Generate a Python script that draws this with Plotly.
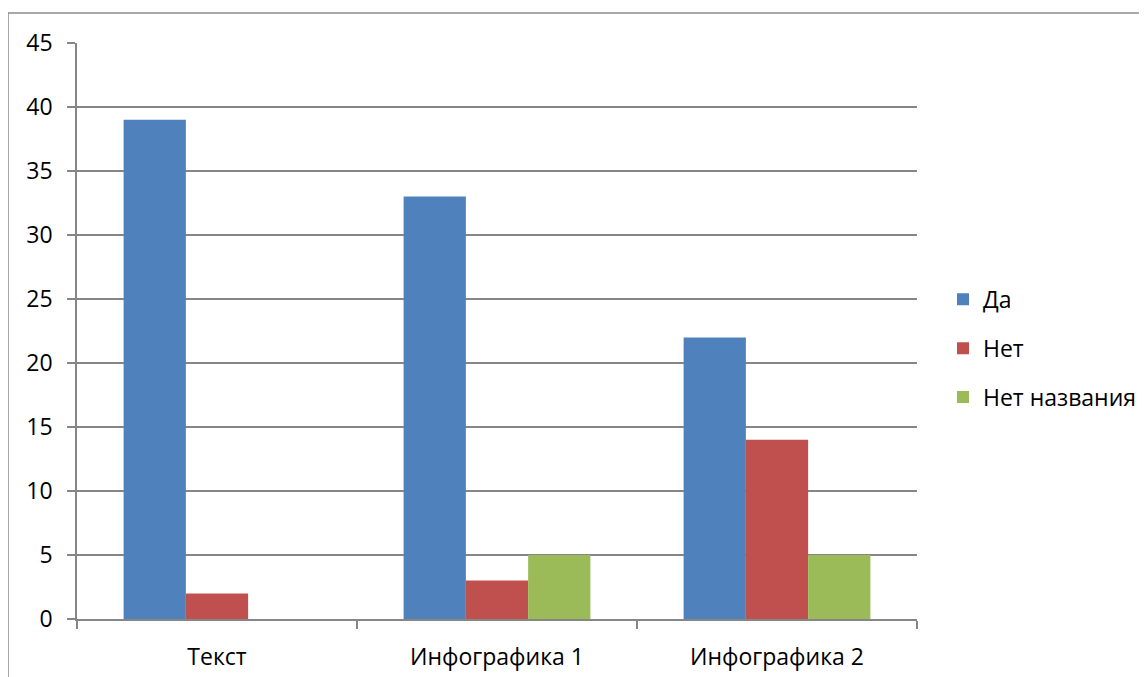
import plotly.graph_objects as go

categories = ["Текст", "Инфографика 1", "Инфографика 2"]
series_names = ["Да", "Нет", "Нет названия"]
da = [39, 33, 22]
net = [2, 3, 14]
net_nazv = [None, 5, 5]
colors = ["#4F81BD", "#C0504D", "#9BBB59"]

fig = go.Figure()
for i, (name, vals) in enumerate(zip(series_names, [da, net, net_nazv])):
    fig.add_trace(go.Bar(x=categories, y=vals, name=name, marker_color=colors[i],
                         marker_line_width=0, legendgroup=name))

OFF = 8  # page body margin
W, H = 1147 - OFF, 677 - OFF
L, R, T, B = 77 - OFF, 917 - OFF, 43 - OFF, 619 - OFF
pw, ph = R - L, B - T

def px(x):
    return (x - OFF - L) / pw

def py(y):
    return (B - (y - OFF)) / ph

fig.update_layout(
    width=W, height=H,
    margin=dict(l=L, r=W - R, t=T, b=H - B, pad=0, autoexpand=False),
    paper_bgcolor="white", plot_bgcolor="white",
    font=dict(family="Open Sans, sans-serif", size=23, color="black"),
    barmode="group", bargap=0.333, bargroupgap=0,
    legend=dict(x=px(943), y=py(298) + 0.035, xanchor="left", yanchor="top",
                tracegroupgap=16, font=dict(size=23), itemwidth=30,
                bgcolor="rgba(0,0,0,0)"),
    shapes=[dict(type="rect", xref="paper", yref="paper",
                 x0=px(8), x1=px(1170), y0=py(700), y1=py(13),
                 line=dict(color="#8c8c8c", width=1.5), layer="below")],
)
fig.update_xaxes(showline=True, linecolor="#868686", linewidth=1.5,
                 ticks="outside", tickson="boundaries", ticklen=8,
                 tickcolor="#868686", tickwidth=1.5, showgrid=False,
                 ticklabelstandoff=17)
fig.update_yaxes(range=[0, 45], dtick=5, showline=True, linecolor="#868686",
                 linewidth=1.5, ticks="outside", ticklen=8, tickcolor="#868686",
                 tickwidth=1.5, showgrid=True, gridcolor="#868686", gridwidth=1.5,
                 zeroline=False, ticklabelstandoff=10)

fig.write_html("out.html")
